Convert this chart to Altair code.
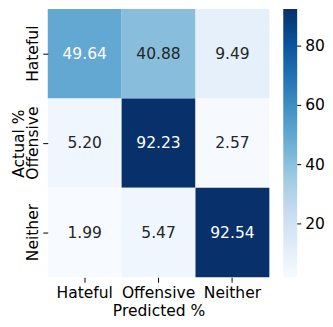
import altair as alt
import pandas as pd

actual = ["Hateful", "Offensive", "Neither"]
predicted = ["Hateful", "Offensive", "Neither"]
values = [
    [49.64, 40.88, 9.49],
    [5.20, 92.23, 2.57],
    [1.99, 5.47, 92.54],
]
cbar_ticks = [20, 40, 60, 80]
blues = ["#f7fbff", "#deebf7", "#c6dbef", "#9ecae1", "#6baed6",
         "#4292c6", "#2171b5", "#08519c", "#08306b"]

rows = []
for i, a in enumerate(actual):
    for j, p in enumerate(predicted):
        rows.append({"actual": a, "predicted": p, "value": values[i][j]})
df = pd.DataFrame(rows)
ticks_df = pd.DataFrame({"v": cbar_ticks})

vmin = min(min(r) for r in values)
vmax = max(max(r) for r in values)
n = len(blues)
dom = [vmin + (vmax - vmin) * k / (n - 1) for k in range(n)]

FONT = "DejaVu Sans"
FS = 15.6
W, H = 223, 270

base = alt.Chart(df)

x = alt.X("predicted:N", sort=predicted, title="Predicted %",
          scale=alt.Scale(paddingInner=0, paddingOuter=0),
          axis=alt.Axis(labelAngle=0, labelPadding=3, titlePadding=3,
                        ticks=True, tickSize=5, domain=False))
y = alt.Y("actual:N", sort=actual, title="Actual %",
          scale=alt.Scale(paddingInner=0, paddingOuter=0),
          axis=alt.Axis(orient="left", labelAngle=270, labelAlign="center",
                        labelBaseline="alphabetic",
                        labelPadding=5, ticks=True, tickSize=5, domain=False,
                        titleAngle=270, titleX=-24, titleY=H / 2, titleAlign="center",
                        titleBaseline="alphabetic"))

rect = base.mark_rect(strokeWidth=0).encode(
    x=x, y=y,
    color=alt.Color("value:Q",
                    scale=alt.Scale(domain=dom, range=blues, interpolate="rgb"),
                    legend=alt.Legend(title=None, values=cbar_ticks, gradientLength=H,
                                      gradientThickness=14, offset=14, padding=0,
                                      labelOffset=8, labelFont=FONT, labelFontSize=FS,
                                      labelColor="#000000", gradientStrokeWidth=0)),
)

text = base.mark_text(font=FONT, fontSize=FS).encode(
    x=alt.X("predicted:N", sort=predicted),
    y=alt.Y("actual:N", sort=actual),
    text=alt.Text("value:Q", format=".2f"),
    color=alt.condition(alt.datum.value > 45, alt.value("#ffffff"), alt.value("#262626")),
)

heat = alt.layer(rect, text)

# small tick marks beside the colour bar, placed through a value scale
cbar_tick_marks = alt.Chart(ticks_df).mark_rule(color="#000000", strokeWidth=1).encode(
    y=alt.Y("v:Q", scale=alt.Scale(domain=[vmin, vmax], nice=False, zero=False), axis=None),
    x=alt.value(W + 14 + 14),
    x2=alt.value(W + 14 + 14 + 4),
)

chart = alt.layer(heat, cbar_tick_marks).resolve_scale(y="independent").properties(
    width=W, height=H,
    autosize=alt.AutoSizeParams(type="none"),
    padding={"left": 40, "top": 0, "right": 56, "bottom": 41},
).configure_view(stroke=None).configure_axis(
    labelFont=FONT, labelFontSize=FS, labelColor="#000000",
    titleFont=FONT, titleFontSize=FS, titleColor="#000000", titleFontWeight="normal",
    tickColor="#000000", tickWidth=1, grid=False,
)

chart.save("out.html", embed_options={"renderer": "svg", "actions": False})
